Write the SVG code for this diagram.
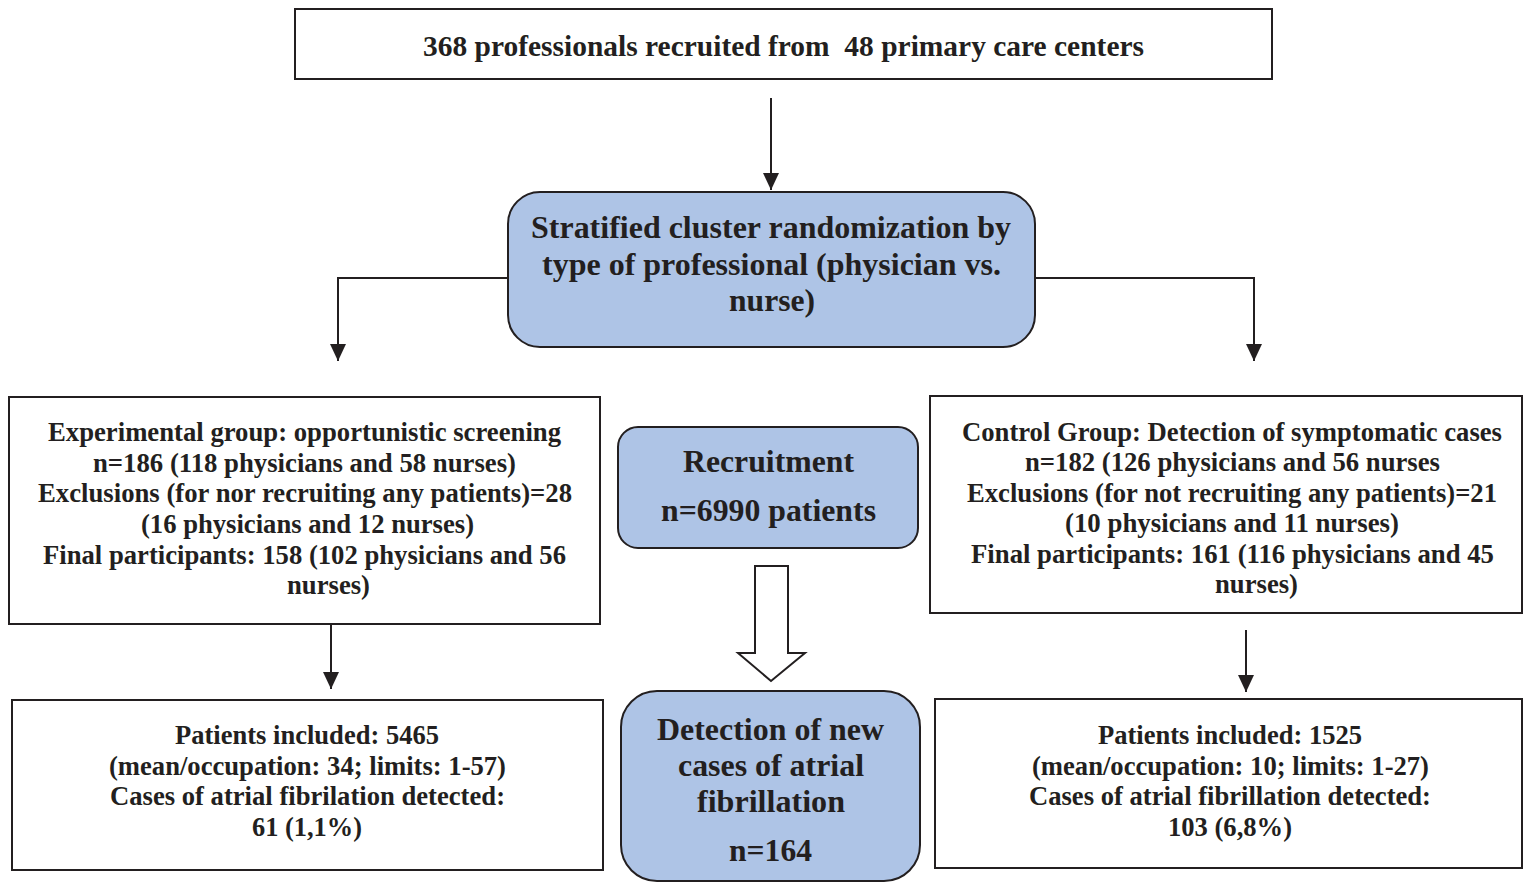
<svg xmlns="http://www.w3.org/2000/svg" width="1524" height="884" viewBox="0 0 1524 884">
<defs>
<style>
.box{fill:#fff;stroke:#231f20;stroke-width:2}
.blue{fill:#aec4e6;stroke:#231f20;stroke-width:2}
.t{font-family:"Liberation Serif","Times New Roman",serif;font-weight:bold;fill:#231f20;text-anchor:middle}
.s24{font-size:26.5px}
.s27{font-size:29.4px}
.s31{font-size:32px}
.ln{fill:none;stroke:#231f20;stroke-width:2}
</style>
<marker id="ah" markerUnits="userSpaceOnUse" markerWidth="18" markerHeight="18" viewBox="0 0 18 18" refX="17" refY="9" orient="auto">
<path d="M0,1 L17,9 L0,17 Z" fill="#231f20"/>
</marker>
</defs>
<rect width="1524" height="884" fill="#fff"/>

<g id="connectors">
<line class="ln" x1="771" y1="98" x2="771" y2="190" marker-end="url(#ah)"/>
<polyline class="ln" points="508,278 338,278 338,361" marker-end="url(#ah)"/>
<polyline class="ln" points="1035,278 1254,278 1254,361" marker-end="url(#ah)"/>
<line class="ln" x1="331" y1="624" x2="331" y2="689" marker-end="url(#ah)"/>
<line class="ln" x1="1246" y1="630" x2="1246" y2="692" marker-end="url(#ah)"/>
<polygon points="755,566 788,566 788,653 805,653 771,681 738,653 755,653" fill="#fff" stroke="#231f20" stroke-width="2"/>
</g>

<g id="top">
<rect class="box" x="295" y="9" width="977" height="70"/>
<text class="t s27" x="783.5" y="56" textLength="721" lengthAdjust="spacingAndGlyphs">368 professionals recruited from &#160;48 primary care centers</text>
</g>

<g id="randomization">
<rect class="blue" x="508" y="192" width="527" height="155" rx="32"/>
<text class="t s31" x="771" y="238" textLength="480" lengthAdjust="spacingAndGlyphs">Stratified cluster randomization by</text>
<text class="t s31" x="771.5" y="275" textLength="459" lengthAdjust="spacingAndGlyphs">type of professional (physician vs.</text>
<text class="t s31" x="772" y="311" textLength="86" lengthAdjust="spacingAndGlyphs">nurse)</text>
</g>

<g id="experimental">
<rect class="box" x="9" y="397" width="591" height="227"/>
<text class="t s24" x="304.5" y="441" textLength="513" lengthAdjust="spacingAndGlyphs">Experimental group: opportunistic screening</text>
<text class="t s24" x="304.5" y="472" textLength="423" lengthAdjust="spacingAndGlyphs">n=186 (118 physicians and 58 nurses)</text>
<text class="t s24" x="305" y="502" textLength="534" lengthAdjust="spacingAndGlyphs">Exclusions (for nor recruiting any patients)=28</text>
<text class="t s24" x="307.5" y="533" textLength="333" lengthAdjust="spacingAndGlyphs">(16 physicians and 12 nurses)</text>
<text class="t s24" x="304.5" y="564" textLength="523" lengthAdjust="spacingAndGlyphs">Final participants: 158 (102 physicians and 56</text>
<text class="t s24" x="328.5" y="594" textLength="83" lengthAdjust="spacingAndGlyphs">nurses)</text>
</g>

<g id="recruitment">
<rect class="blue" x="618" y="427" width="300" height="121" rx="20"/>
<text class="t s31" x="768.5" y="472" textLength="171" lengthAdjust="spacingAndGlyphs">Recruitment</text>
<text class="t s31" x="768.5" y="521" textLength="215" lengthAdjust="spacingAndGlyphs">n=6990 patients</text>
</g>

<g id="control">
<rect class="box" x="930" y="396" width="592" height="217"/>
<text class="t s24" x="1232" y="441" textLength="540" lengthAdjust="spacingAndGlyphs">Control Group: Detection of symptomatic cases</text>
<text class="t s24" x="1232.5" y="471" textLength="415" lengthAdjust="spacingAndGlyphs">n=182 (126 physicians and 56 nurses</text>
<text class="t s24" x="1232" y="502" textLength="530" lengthAdjust="spacingAndGlyphs">Exclusions (for not recruiting any patients)=21</text>
<text class="t s24" x="1232" y="532" textLength="334" lengthAdjust="spacingAndGlyphs">(10 physicians and 11 nurses)</text>
<text class="t s24" x="1232.5" y="563" textLength="523" lengthAdjust="spacingAndGlyphs">Final participants: 161 (116 physicians and 45</text>
<text class="t s24" x="1256.5" y="593" textLength="83" lengthAdjust="spacingAndGlyphs">nurses)</text>
</g>

<g id="results-experimental">
<rect class="box" x="12" y="700" width="591" height="170"/>
<text class="t s24" x="307" y="744" textLength="264" lengthAdjust="spacingAndGlyphs">Patients included: 5465</text>
<text class="t s24" x="307.5" y="775" textLength="397" lengthAdjust="spacingAndGlyphs">(mean/occupation: 34; limits: 1-57)</text>
<text class="t s24" x="307.5" y="805" textLength="395" lengthAdjust="spacingAndGlyphs">Cases of atrial fibrilation detected:</text>
<text class="t s24" x="307" y="836" textLength="110" lengthAdjust="spacingAndGlyphs">61 (1,1%)</text>
</g>

<g id="detection">
<rect class="blue" x="621" y="691" width="299" height="190" rx="36"/>
<text class="t s31" x="770.5" y="740" textLength="227" lengthAdjust="spacingAndGlyphs">Detection of new</text>
<text class="t s31" x="771" y="776" textLength="186" lengthAdjust="spacingAndGlyphs">cases of atrial</text>
<text class="t s31" x="771" y="812" textLength="148" lengthAdjust="spacingAndGlyphs">fibrillation</text>
<text class="t s31" x="770.5" y="861" textLength="83" lengthAdjust="spacingAndGlyphs">n=164</text>
</g>

<g id="results-control">
<rect class="box" x="935" y="699" width="587" height="169"/>
<text class="t s24" x="1230" y="744" textLength="264" lengthAdjust="spacingAndGlyphs">Patients included: 1525</text>
<text class="t s24" x="1230.5" y="775" textLength="397" lengthAdjust="spacingAndGlyphs">(mean/occupation: 10; limits: 1-27)</text>
<text class="t s24" x="1230" y="805" textLength="402" lengthAdjust="spacingAndGlyphs">Cases of atrial fibrillation detected:</text>
<text class="t s24" x="1230" y="836" textLength="124" lengthAdjust="spacingAndGlyphs">103 (6,8%)</text>
</g>
</svg>
